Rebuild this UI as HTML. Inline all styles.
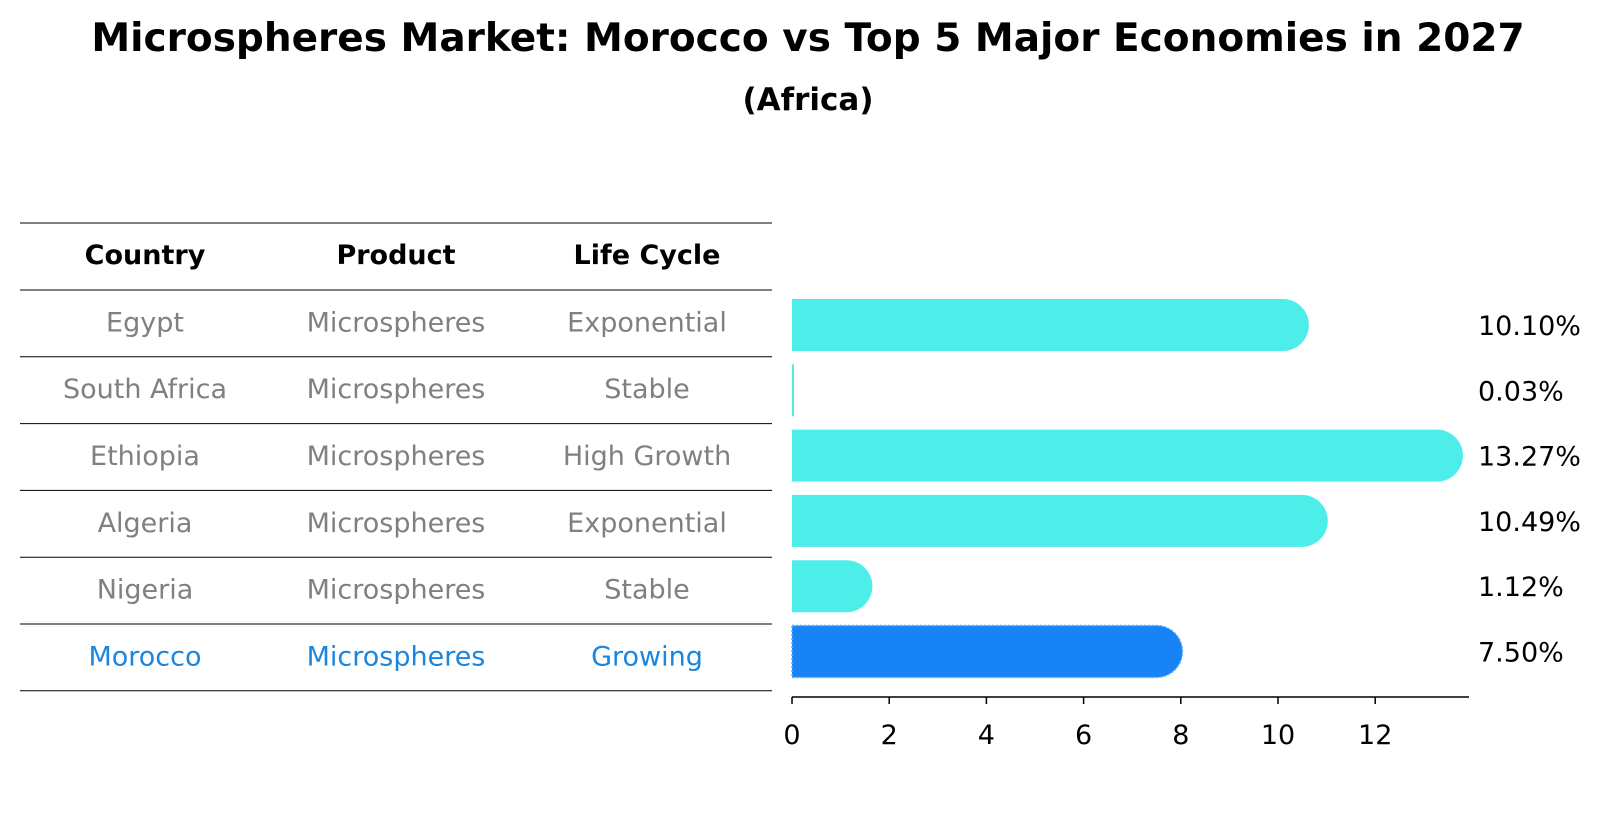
<!DOCTYPE html>
<html><head><meta charset="utf-8"><style>
body{margin:0;background:#fff;width:1604px;height:823px;overflow:hidden;font-family:"Liberation Sans","DejaVu Sans",sans-serif}
</style></head><body>
<svg id="chart" width="1604" height="823" xmlns="http://www.w3.org/2000/svg" font-family="DejaVu Sans, Liberation Sans, sans-serif">
<text x="808" y="51" text-anchor="middle" font-size="39" font-weight="bold">Microspheres Market: Morocco vs Top 5 Major Economies in 2027</text>
<text x="808" y="110" text-anchor="middle" font-size="31" font-weight="bold">(Africa)</text>
<g id="table"></g>
<g id="bars"></g>
<g id="axis"></g>
</svg>
<script>
const countries = ["Egypt","South Africa","Ethiopia","Algeria","Nigeria","Morocco"];
const products = ["Microspheres","Microspheres","Microspheres","Microspheres","Microspheres","Microspheres"];
const lifeCycles = ["Exponential","Stable","High Growth","Exponential","Stable","Growing"];
const values = [10.10,0.03,13.27,10.49,1.12,7.50];
const ticks = [0,2,4,6,8,10,12];
const highlight = "Morocco";

const NS="http://www.w3.org/2000/svg";
function mk(tag,attrs,parent,text){const e=document.createElementNS(NS,tag);for(const k in attrs)e.setAttribute(k,attrs[k]);if(text!==undefined)e.textContent=text;parent.appendChild(e);return e;}
const x0=792, pxPer=48.6, axisY=697, barH=52;
const xs=v=>x0+v*pxPer;
const rowTop=290, rowH=66.8;
const yc=i=>rowTop+rowH*(i+0.5);
const yb=i=>325+65.3*i;

const table=document.getElementById('table');
const colX=[145,396,647];
const lineYs=[223,rowTop];
for(let i=1;i<=countries.length;i++)lineYs.push(rowTop+rowH*i);
lineYs.forEach((y,i)=>{
  const l=mk('line',{x1:20,x2:772,y1:y,y2:y,stroke:'#000','stroke-width':1},table);
  
  
});
["Country","Product","Life Cycle"].forEach((h,j)=>{
  const t=mk('text',{x:colX[j],y:264,'text-anchor':'middle','font-size':27,'font-weight':'bold'},table,h);
  
  
});
countries.forEach((c,i)=>{
  const col=c===highlight?'#1a86e0':'#808080';
  [c,products[i],lifeCycles[i]].forEach((v,j)=>{
    const t=mk('text',{x:colX[j],y:yc(i)+8,'text-anchor':'middle','font-size':27,fill:col},table,v);
    
    
  });
});

const bars=document.getElementById('bars');
values.forEach((v,i)=>{
  const w=xs(v)-x0; const top=yb(i)-barH/2; const r=Math.min(barH/2,w);
  const isH=countries[i]===highlight;
  const d=`M${x0},${top} H${x0+w} A${r},${barH/2} 0 0 1 ${x0+w},${top+barH} H${x0} Z`;
  const p=mk('path',{d:d,fill:isH?'#1783F5':'#4DEDEA'},bars);
  if(isH){p.setAttribute('stroke','#5fb0ff');p.setAttribute('stroke-width','1.5');p.setAttribute('stroke-dasharray','2 2');}
  if(w<3){p.setAttribute('d',`M${x0},${top} h2 v${barH} h-2 Z`);}
  
  
  const t=mk('text',{x:1478,y:yb(i)+10,'font-size':27},bars,v.toFixed(2)+'%');
  
  
});

const axis=document.getElementById('axis');
const al=mk('line',{x1:x0,x2:1469,y1:axisY,y2:axisY,stroke:'#000','stroke-width':1.5},axis);


ticks.forEach(t=>{
  const l=mk('line',{x1:xs(t),x2:xs(t),y1:axisY,y2:axisY+7,stroke:'#000','stroke-width':1.5},axis);
  
  
  const tx=mk('text',{x:xs(t),y:axisY+47,'text-anchor':'middle','font-size':27},axis,String(t));
  
  
});
</script>
</body></html>
